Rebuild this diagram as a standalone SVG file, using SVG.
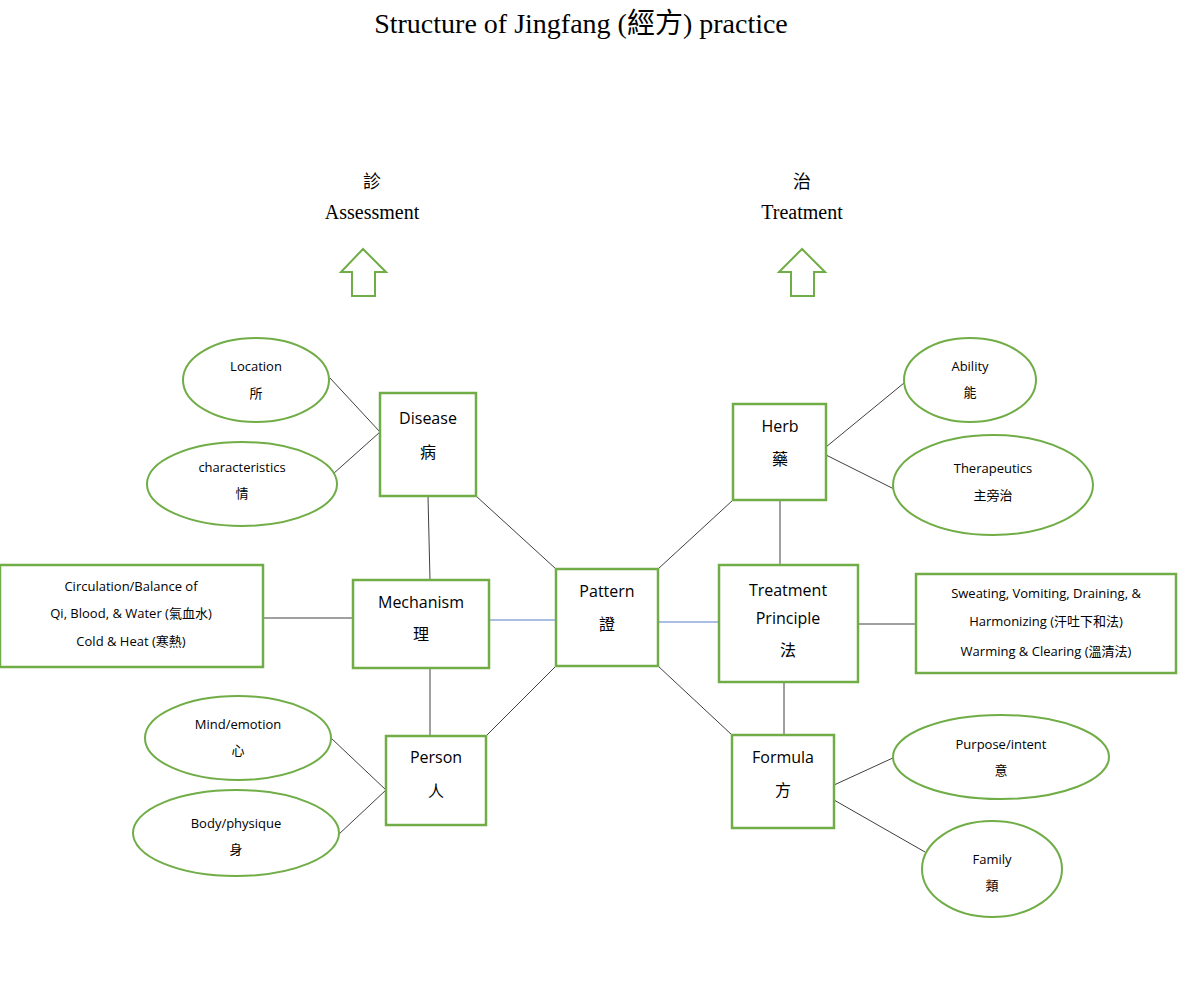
<svg xmlns="http://www.w3.org/2000/svg" width="1180" height="1007" viewBox="0 0 1180 1007">
<style>
.b{fill:#fff;stroke:#70AD47;stroke-width:2.5}
.e{fill:#fff;stroke:#70AD47;stroke-width:2}
.l{stroke:#404040;stroke-width:1;fill:none}
.bl{stroke:#8EA9DB;stroke-width:1.5}
.t{font-family:"Open Sans","Noto Sans CJK TC",sans-serif;font-size:16px;text-anchor:middle;fill:#000}
.s{font-family:"Open Sans","Noto Sans CJK TC",sans-serif;font-size:13px;text-anchor:middle;fill:#000}
.h{font-family:"Liberation Serif","Noto Sans CJK TC",serif;text-anchor:middle;fill:#000}
</style>
<rect width="1180" height="1007" fill="#fff"/>
<text class="h" x="581" y="33" font-size="28">Structure of Jingfang (經方) practice</text>
<g id="assess"><text class="h" x="372" y="188" font-size="18">診</text><text class="h" x="372" y="219" font-size="20">Assessment</text>
<polygon class="e" points="363,249 386,272 375,272 375,296 352,296 352,272 341,272"/></g>
<g id="treat"><text class="h" x="802" y="188" font-size="18">治</text><text class="h" x="802" y="219" font-size="20">Treatment</text>
<polygon class="e" points="802,249 825,272 814,272 814,296 791,296 791,272 779,272"/></g>
<g id="connectors">
<path class="l" d="M330,378L380,432M333,474L380,432M428,496L430,580M476,496L556,569M263,618H353M430,668V736M486,736L556,666M331,738L386,790M338,835L386,790M658,569L733,500M780,500V565M858,624H916M784,682V735M658,666L732,735M904,383L826,447M826,455L896,490M834,785L895,757M834,800L925,852"/>
<path class="bl" d="M489,620H556M658,622H719"/>
</g>
<g id="location"><ellipse class="e" cx="256" cy="380" rx="73" ry="42"/><text class="s" x="256" y="371">Location</text><text class="s" x="256" y="398">所</text></g>
<g id="characteristics"><ellipse class="e" cx="242" cy="484" rx="95" ry="42"/><text class="s" x="242" y="472">characteristics</text><text class="s" x="242" y="498">情</text></g>
<g id="mind"><ellipse class="e" cx="238" cy="738" rx="93" ry="42"/><text class="s" x="238" y="729">Mind/emotion</text><text class="s" x="238" y="755">心</text></g>
<g id="body"><ellipse class="e" cx="236" cy="833" rx="103" ry="43"/><text class="s" x="236" y="828">Body/physique</text><text class="s" x="236" y="854">身</text></g>
<g id="ability"><ellipse class="e" cx="970" cy="380" rx="66" ry="42"/><text class="s" x="970" y="371">Ability</text><text class="s" x="970" y="397">能</text></g>
<g id="therapeutics"><ellipse class="e" cx="993" cy="485" rx="100" ry="50"/><text class="s" x="993" y="473">Therapeutics</text><text class="s" x="993" y="500">主旁治</text></g>
<g id="purpose"><ellipse class="e" cx="1001" cy="757" rx="108" ry="42"/><text class="s" x="1001" y="749">Purpose/intent</text><text class="s" x="1001" y="775">意</text></g>
<g id="family"><ellipse class="e" cx="992" cy="869" rx="70" ry="48"/><text class="s" x="992" y="864">Family</text><text class="s" x="992" y="890">類</text></g>
<g id="disease"><rect class="b" x="380" y="393" width="96" height="103"/><text class="t" x="428" y="424">Disease</text><text class="t" x="428" y="458">病</text></g>
<g id="mechanism"><rect class="b" x="353" y="580" width="136" height="88"/><text class="t" x="421" y="608">Mechanism</text><text class="t" x="421" y="640">理</text></g>
<g id="pattern"><rect class="b" x="556" y="569" width="102" height="97"/><text class="t" x="607" y="597">Pattern</text><text class="t" x="607" y="630">證</text></g>
<g id="herb"><rect class="b" x="733" y="404" width="93" height="96"/><text class="t" x="780" y="432">Herb</text><text class="t" x="780" y="465">藥</text></g>
<g id="principle"><rect class="b" x="719" y="565" width="139" height="117"/><text class="t" x="788" y="596">Treatment</text><text class="t" x="788" y="624">Principle</text><text class="t" x="788" y="656">法</text></g>
<g id="person"><rect class="b" x="386" y="736" width="100" height="89"/><text class="t" x="436" y="763">Person</text><text class="t" x="436" y="797">人</text></g>
<g id="formula"><rect class="b" x="732" y="735" width="102" height="93"/><text class="t" x="783" y="763">Formula</text><text class="t" x="783" y="796">方</text></g>
<g id="circulation"><rect class="b" x="0" y="565" width="263" height="102"/><text class="s" x="131" y="591">Circulation/Balance of</text><text class="s" x="131" y="618">Qi, Blood, &amp; Water (氣血水)</text><text class="s" x="131" y="646">Cold &amp; Heat (寒熱)</text></g>
<g id="methods"><rect class="b" x="916" y="574" width="260" height="99"/><text class="s" x="1046" y="598">Sweating, Vomiting, Draining, &amp;</text><text class="s" x="1046" y="626">Harmonizing (汗吐下和法)</text><text class="s" x="1046" y="656">Warming &amp; Clearing (溫清法)</text></g>
</svg>
